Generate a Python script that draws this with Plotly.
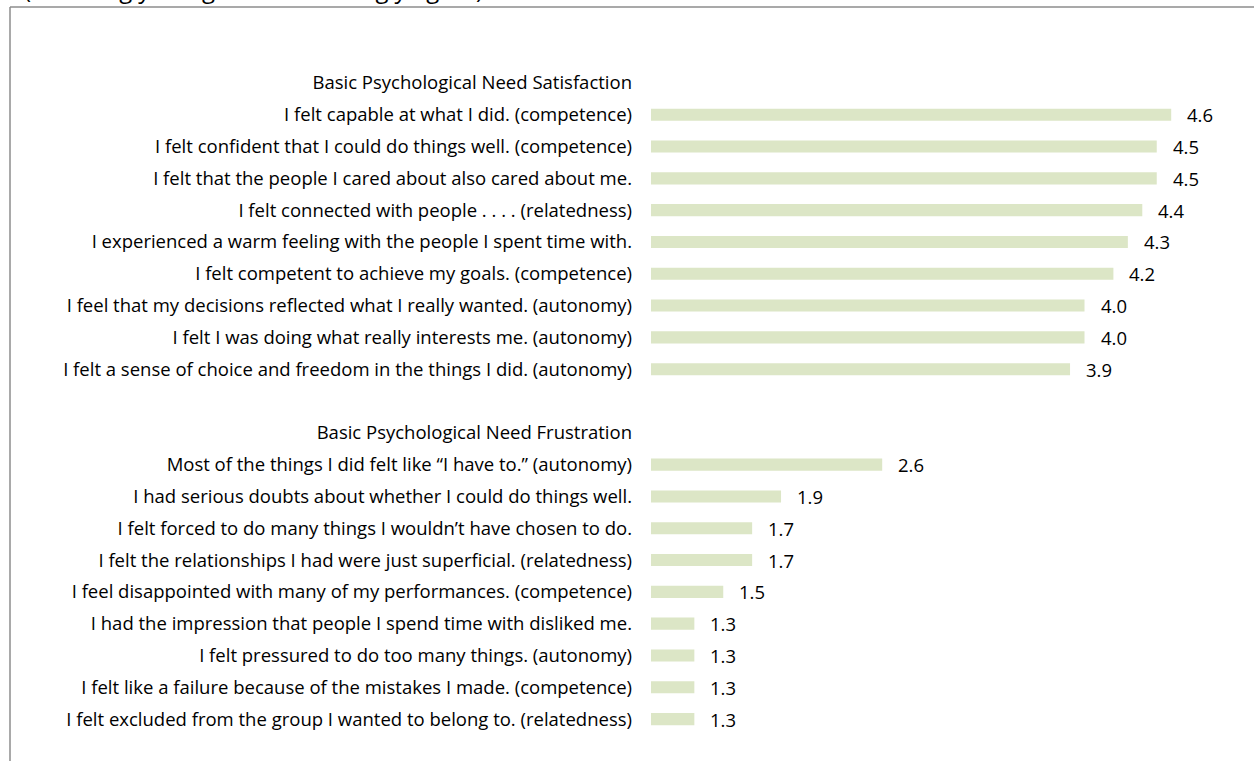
import plotly.graph_objects as go

# Section headings and survey items (top to bottom)
sat_heading = "Basic Psychological Need Satisfaction"
sat_items = [
    "I felt capable at what I did. (competence)",
    "I felt confident that I could do things well. (competence)",
    "I felt that the people I cared about also cared about me.",
    "I felt connected with people . . . . (relatedness)",
    "I experienced a warm feeling with the people I spent time with.",
    "I felt competent to achieve my goals. (competence)",
    "I feel that my decisions reflected what I really wanted. (autonomy)",
    "I felt I was doing what really interests me. (autonomy)",
    "I felt a sense of choice and freedom in the things I did. (autonomy)",
]
sat_values = [4.6, 4.5, 4.5, 4.4, 4.3, 4.2, 4.0, 4.0, 3.9]

frus_heading = "Basic Psychological Need Frustration"
frus_items = [
    "Most of the things I did felt like \u201cI have to.\u201d (autonomy)",
    "I had serious doubts about whether I could do things well.",
    "I felt forced to do many things I wouldn\u2019t have chosen to do.",
    "I felt the relationships I had were just superficial. (relatedness)",
    "I feel disappointed with many of my performances. (competence)",
    "I had the impression that people I spend time with disliked me.",
    "I felt pressured to do too many things. (autonomy)",
    "I felt like a failure because of the mistakes I made. (competence)",
    "I felt excluded from the group I wanted to belong to. (relatedness)",
]
frus_values = [2.6, 1.9, 1.7, 1.7, 1.5, 1.3, 1.3, 1.3, 1.3]

title_text = "(1=Strongly disagree to 5=Strongly agree)"

spacer = " "
categories = [sat_heading] + sat_items + [spacer, frus_heading] + frus_items
values = [None] + sat_values + [None, None] + frus_values

W, H = 1254, 761
ML, MR, MT, MB = 651, 25, 67, 26
plot_w = W - ML - MR
plot_h = H - MT - MB

FONT = "Open Sans"
FS = 18.5
BAR = "#DCE6C6"
SCALE_MIN = 1

fig = go.Figure()
fig.add_trace(go.Bar(
    x=[None if v is None else v - SCALE_MIN for v in values],
    y=categories,
    base=SCALE_MIN,
    orientation="h",
    marker=dict(color=BAR, line=dict(width=0)),
    width=0.38,
    hoverinfo="skip",
))

annotations = []
for cat, v in zip(categories, values):
    if v is None:
        continue
    annotations.append(dict(
        x=v, y=cat, xref="x", yref="y",
        text=f"{v:.1f}", showarrow=False,
        xanchor="left", yanchor="middle", xshift=14,
        font=dict(family=FONT, size=FS, color="#000000"),
    ))

# Chart title sitting above the frame
annotations.append(dict(
    x=(22 - ML) / plot_w, y=1 + (MT - 7) / plot_h,
    xref="paper", yref="paper",
    text=title_text, showarrow=False,
    xanchor="left", yanchor="bottom",
    font=dict(family=FONT, size=24, color="#000000"),
))

# Chart frame: top and left borders
fx0 = (10 - ML) / plot_w
fy_top = 1 + (MT - 7) / plot_h
fy_bot = -(MB + 5) / plot_h
fx1 = 1 + (MR + 5) / plot_w
shapes = [
    dict(type="line", xref="paper", yref="paper", x0=fx0, x1=fx1, y0=fy_top, y1=fy_top,
         line=dict(color="#8C8C8C", width=1.5)),
    dict(type="line", xref="paper", yref="paper", x0=fx0, x1=fx0, y0=fy_bot, y1=fy_top,
         line=dict(color="#8C8C8C", width=1.5)),
]

fig.update_layout(
    width=W, height=H,
    margin=dict(l=ML, r=MR, t=MT, b=MB, pad=0),
    paper_bgcolor="white", plot_bgcolor="white",
    showlegend=False,
    annotations=annotations,
    shapes=shapes,
    font=dict(family=FONT, size=FS, color="#000000"),
    xaxis=dict(range=[SCALE_MIN, 5], visible=False, showgrid=False, zeroline=False),
    yaxis=dict(
        type="category",
        categoryorder="array", categoryarray=categories,
        range=[len(categories) - 0.5, -0.5],
        showgrid=False, zeroline=False, showline=False,
        ticks="", ticklabelstandoff=18,
        tickfont=dict(family=FONT, size=FS, color="#000000"),
    ),
)

fig.write_html("out.html")
